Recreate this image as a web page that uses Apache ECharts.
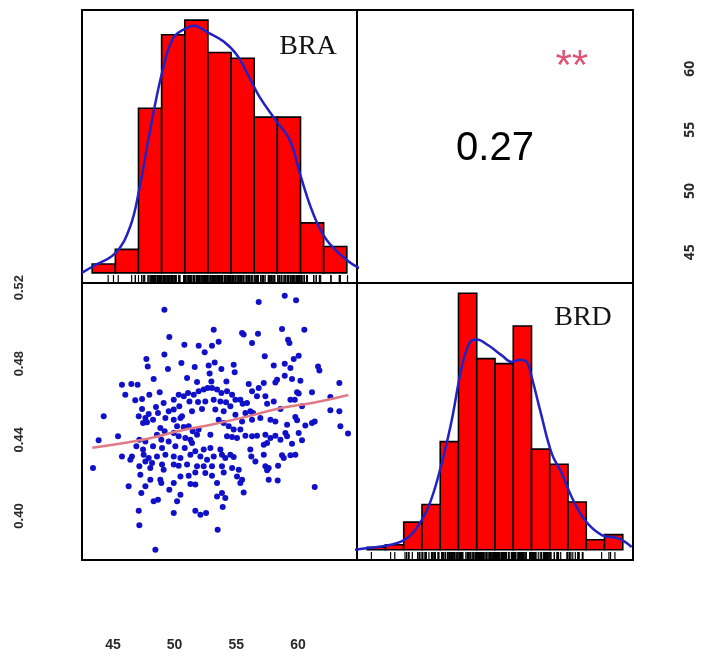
<!DOCTYPE html>
<html><head><meta charset="utf-8">
<script src="https://cdn.jsdelivr.net/npm/echarts@6/dist/echarts.min.js"></script>
<style>html,body{margin:0;padding:0;background:#fff}#c{width:728px;height:656px}</style>
</head><body><div id="c"></div>
<script>
// ---------------- data ----------------
const braBreaks = [42,44,46,48,50,52,54,56,58,60,62,64];
const braCounts = [3,8,56,81,86,75,73,53,53,17,9];
const brdBreaks = [0.38,0.39,0.40,0.41,0.42,0.43,0.44,0.45,0.46,0.47,0.48,0.49,0.50,0.51,0.52];
const brdCounts = [1,2,11,18,43,102,76,74,89,40,34,19,4,6];

const braDensity = [[41.1,0],[42.0,2.1],[44.0,6.7],[45.27,15.6],[46.05,28.1],[46.99,48.2],[48.06,68.5],[49.0,79.9],[50.08,83.2],[50.74,84.1],[52.09,81.6],[53.33,78.8],[54.49,74.2],[55.6,66.3],[56.5,59.6],[57.9,51.7],[59.1,45.0],[59.96,33.6],[61.1,20.1],[62.26,11.2],[63.99,4.4],[65.1,1.6]];
const brdDensity = [[0.3733,0],[0.3806,0.7],[0.3916,1.8],[0.4002,3.8],[0.4062,7.8],[0.4135,17],[0.4203,32.9],[0.4263,51.5],[0.4318,72.7],[0.4363,82.6],[0.4400,83.6],[0.4463,81.3],[0.4537,77.3],[0.4592,74.7],[0.4637,75.6],[0.4674,74.7],[0.4701,68.7],[0.4747,55.5],[0.4811,38.2],[0.4866,30.3],[0.4920,21],[0.4993,11.7],[0.5085,5.8],[0.5176,4.5],[0.5249,1.1]];

// BRA (x) , BRD (y) pairs
const scatterPoints = [
[49.17,0.5084],[49.57,0.4940],[49.17,0.4848],[47.71,0.4825],[47.82,0.4786],[49.46,0.4772],[48.30,0.4720],[45.73,0.4690],[46.49,0.4693],[47.00,0.4690],[46.00,0.4637],[46.81,0.4608],[47.36,0.4615],[47.95,0.4637],[48.79,0.4650],[49.11,0.4594],[48.49,0.4573],[47.36,0.4562],[47.90,0.4536],[48.65,0.4541],[49.52,0.4550],[47.09,0.4524],[47.63,0.4515],[48.25,0.4506],[49.25,0.4515],[44.25,0.4524],[47.44,0.4489],[47.76,0.4492],[48.84,0.4462],[49.19,0.4445],[48.57,0.4427],[45.41,0.4419],[43.84,0.4398],[47.14,0.4401],[47.63,0.4392],[48.92,0.4401],[49.52,0.4392],[46.90,0.4366],[47.44,0.4349],[48.25,0.4366],[48.98,0.4357],[45.73,0.4313],[46.54,0.4313],[47.49,0.4322],[47.90,0.4305],[48.57,0.4313],[49.25,0.4322],[46.41,0.4296],[47.63,0.4287],[48.17,0.4278],[48.98,0.4270],[47.14,0.4261],[48.03,0.4252],[49.11,0.4243],[43.38,0.4252],[47.22,0.4217],[48.03,0.4191],[48.84,0.4191],[46.27,0.4156],[47.63,0.4156],[48.92,0.4173],[47.30,0.4121],[49.57,0.4138],[48.30,0.4077],[48.65,0.4086],[47.09,0.4028],[47.14,0.3951],[48.44,0.3823],
[56.82,0.5124],[53.17,0.4979],[55.47,0.4961],[55.60,0.4953],[56.76,0.4958],[56.28,0.4909],[50.79,0.4900],[51.95,0.4895],[53.03,0.4895],[53.57,0.4916],[52.44,0.4860],[50.55,0.4804],[51.63,0.4783],[52.76,0.4790],[53.25,0.4807],[54.79,0.4795],[54.87,0.4755],[53.79,0.4772],[52.84,0.4748],[51.01,0.4725],[51.82,0.4704],[52.98,0.4707],[54.20,0.4707],[56.01,0.4693],[56.82,0.4672],[50.33,0.4637],[50.74,0.4629],[51.09,0.4646],[51.55,0.4637],[51.95,0.4655],[52.36,0.4664],[52.68,0.4672],[53.03,0.4672],[53.44,0.4664],[53.79,0.4646],[54.25,0.4655],[54.66,0.4637],[54.93,0.4611],[55.33,0.4611],[55.87,0.4594],[56.28,0.4655],[56.68,0.4629],[49.93,0.4611],[50.38,0.4576],[51.20,0.4602],[51.90,0.4599],[52.49,0.4602],[53.17,0.4611],[53.71,0.4602],[54.17,0.4597],[54.52,0.4576],[55.52,0.4590],[56.14,0.4550],[56.36,0.4541],[49.93,0.4559],[50.60,0.4524],[51.41,0.4550],[52.22,0.4562],[53.30,0.4559],[53.98,0.4550],[54.93,0.4532],[55.74,0.4541],[49.93,0.4506],[50.47,0.4515],[50.20,0.4471],[50.74,0.4468],[51.14,0.4471],[51.47,0.4445],[51.95,0.4454],[53.57,0.4506],[53.98,0.4489],[54.39,0.4471],[54.79,0.4454],[55.33,0.4454],[55.47,0.4497],[56.28,0.4506],[56.95,0.4515],[49.93,0.4436],[50.33,0.4419],[50.87,0.4410],[51.28,0.4401],[51.82,0.4427],[52.90,0.4427],[54.25,0.4419],[54.66,0.4415],[55.06,0.4410],[55.74,0.4422],[56.28,0.4419],[56.68,0.4422],[50.06,0.4366],[50.82,0.4357],[51.41,0.4383],[51.68,0.4340],[52.36,0.4349],[52.90,0.4357],[53.71,0.4349],[53.84,0.4322],[54.52,0.4322],[54.79,0.4310],[54.11,0.4305],[56.14,0.4349],[56.22,0.4313],[49.93,0.4313],[50.47,0.4305],[51.28,0.4322],[52.09,0.4313],[52.63,0.4296],[53.17,0.4313],[49.93,0.4270],[50.33,0.4264],[51.01,0.4270],[51.82,0.4261],[52.36,0.4261],[53.03,0.4261],[53.84,0.4261],[54.66,0.4252],[55.20,0.4243],[56.55,0.4287],[50.47,0.4208],[51.14,0.4212],[51.68,0.4229],[52.49,0.4226],[53.03,0.4212],[53.98,0.4229],[55.06,0.4208],[55.47,0.4191],[49.93,0.4173],[51.28,0.4168],[51.68,0.4165],[53.44,0.4173],[55.33,0.4173],[55.60,0.4124],[50.47,0.4112],[50.20,0.4077],[53.44,0.4103],[53.84,0.4121],[54.11,0.4095],[51.68,0.4028],[52.09,0.4007],[52.55,0.4016],[53.90,0.4047],[53.49,0.3928],[49.93,0.4016],
[58.93,0.5157],[59.85,0.5133],[58.71,0.4982],[60.52,0.4979],[59.20,0.4926],[59.31,0.4909],[57.31,0.4839],[60.06,0.4842],[59.66,0.4825],[58.04,0.4790],[58.93,0.4800],[59.39,0.4777],[61.63,0.4786],[61.74,0.4765],[57.23,0.4699],[58.31,0.4716],[58.17,0.4702],[58.93,0.4737],[59.52,0.4720],[60.20,0.4711],[63.36,0.4699],[57.36,0.4629],[58.04,0.4602],[57.50,0.4590],[59.39,0.4611],[59.74,0.4611],[59.93,0.4650],[60.06,0.4643],[61.14,0.4650],[62.63,0.4625],[58.58,0.4562],[60.33,0.4576],[62.63,0.4555],[63.36,0.4550],[57.77,0.4506],[58.17,0.4497],[59.79,0.4520],[59.93,0.4503],[61.14,0.4489],[61.36,0.4497],[59.12,0.4480],[60.60,0.4475],[63.44,0.4471],[64.06,0.4433],[57.36,0.4427],[57.77,0.4410],[58.17,0.4422],[58.58,0.4401],[58.98,0.4436],[59.12,0.4419],[60.06,0.4436],[60.33,0.4398],[57.23,0.4375],[57.50,0.4383],[59.52,0.4380],[58.71,0.4319],[58.85,0.4305],[59.39,0.4319],[59.79,0.4322],[57.23,0.4322],[57.36,0.4261],[57.63,0.4252],[57.50,0.4240],[58.39,0.4264],[57.63,0.4191],[58.36,0.4187],[61.36,0.4152]
];
const smoothLine = [[43.33,0.4359],[47.74,0.4405],[50.44,0.4448],[53.14,0.4482],[55.85,0.4522],[58.55,0.4566],[61.25,0.4595],[64.09,0.4636]];

const corrText = '0.27';
const signifText = '**';
const varNames = ['BRA','BRD'];
const bottomTicks = [45,50,55,60];
const leftTicks = [0.40,0.44,0.48,0.52];
const rightTicks = [45,50,55,60];

// ---------------- helpers ----------------
const braLim = [42.49, 64.79];
const brdLim = [0.3769, 0.5224];
function histData(breaks, counts){ return counts.map((c,i)=>[breaks[i], breaks[i+1], c]); }
function padRange(a,b){ const s=b-a; return [a-0.04*s, b+0.04*s]; }
const braHX = padRange(braBreaks[0], braBreaks[braBreaks.length-1]);
const brdHX = padRange(brdBreaks[0], brdBreaks[brdBreaks.length-1]);
const braMax = Math.max(...braCounts), brdMax = Math.max(...brdCounts);

function barItem(params, api){
  const p0 = api.coord([api.value(0), 0]);
  const p1 = api.coord([api.value(1), api.value(2)]);
  return {type:'rect', shape:{x:p0[0], y:p1[1], width:p1[0]-p0[0], height:p0[1]-p1[1]},
    style:{fill:'#ff0000', stroke:'#000', lineWidth:1.6}};
}
function rugItem(params, api){
  const p = api.coord([api.value(0), 0]);
  const cs = params.coordSys; const bottom = cs.y + cs.height;
  return {type:'line', shape:{x1:p[0], y1:bottom, x2:p[0], y2:bottom-8}, style:{stroke:'#000', lineWidth:1.2}};
}
const hidden = {show:false};
function hiddenAxis(grid, min, max){
  return {type:'value', gridIndex:grid, min, max, axisLine:hidden, axisTick:hidden, axisLabel:hidden, splitLine:hidden};
}
const frame = {show:true, borderColor:'#000', borderWidth:2, backgroundColor:'transparent'};

const chart = echarts.init(document.getElementById('c'), null, {renderer:'canvas'});
chart.setOption({
  backgroundColor:'#fff',
  animation:false,
  grid:[
    Object.assign({left:82, top:10, width:275, height:273}, frame),
    Object.assign({left:357, top:10, width:276, height:273}, frame),
    Object.assign({left:82, top:283, width:275, height:277}, frame),
    Object.assign({left:357, top:283, width:276, height:277}, frame)
  ],
  xAxis:[
    hiddenAxis(0, braHX[0], braHX[1]),
    hiddenAxis(1, 0, 1),
    {type:'value', gridIndex:2, min:braLim[0], max:braLim[1], position:'bottom',
      axisLine:hidden, axisTick:hidden, splitLine:hidden,
      axisLabel:{show:true, customValues:bottomTicks, margin:78, fontSize:14, fontWeight:'bold',
        fontFamily:'Liberation Sans, Arial', color:'#2a2a2a'}},
    hiddenAxis(3, brdHX[0], brdHX[1])
  ],
  yAxis:[
    hiddenAxis(0, -0.04*braMax, 1.04*braMax),
    hiddenAxis(1, 0, 1),
    {type:'value', gridIndex:2, min:brdLim[0], max:brdLim[1], position:'left',
      axisLine:hidden, axisTick:hidden, splitLine:hidden,
      axisLabel:{show:true, customValues:leftTicks, rotate:90, margin:56, fontSize:13, fontWeight:'bold',
        fontFamily:'Liberation Sans, Arial', color:'#2a2a2a', formatter:v=>v.toFixed(2)}},
    hiddenAxis(3, -0.04*brdMax, 1.04*brdMax),
    {type:'value', gridIndex:1, min:braLim[0], max:braLim[1], position:'right',
      axisLine:hidden, axisTick:hidden, splitLine:hidden,
      axisLabel:{show:true, customValues:rightTicks, rotate:90, margin:50, fontSize:14, fontWeight:'bold',
        fontFamily:'Open Sans', color:'#2a2a2a'}}
  ],
  graphic:[
    {type:'text', x:308, y:47, style:{text:varNames[0], font:'28px "Liberation Serif"', fill:'#151515', textAlign:'center', textVerticalAlign:'middle'}},
    {type:'text', x:583, y:318, style:{text:varNames[1], font:'28px "Liberation Serif"', fill:'#151515', textAlign:'center', textVerticalAlign:'middle'}}
  ],
  series:[
    {type:'custom', xAxisIndex:0, yAxisIndex:0, renderItem:barItem, data:histData(braBreaks, braCounts), silent:true},
    {type:'line', xAxisIndex:0, yAxisIndex:0, data:braDensity, smooth:0.4, symbol:'none', lineStyle:{color:'#2222c4', width:2.5}, silent:true},
    {type:'custom', xAxisIndex:0, yAxisIndex:0, renderItem:rugItem, data:scatterPoints.map(p=>[p[0],0]), silent:true},
    {type:'custom', xAxisIndex:3, yAxisIndex:3, renderItem:barItem, data:histData(brdBreaks, brdCounts), silent:true},
    {type:'line', xAxisIndex:3, yAxisIndex:3, data:brdDensity, smooth:0.4, symbol:'none', lineStyle:{color:'#2222c4', width:2.5}, silent:true},
    {type:'custom', xAxisIndex:3, yAxisIndex:3, renderItem:rugItem, data:scatterPoints.map(p=>[p[1],0]), silent:true},
    {type:'scatter', xAxisIndex:2, yAxisIndex:2, data:scatterPoints, symbolSize:6, itemStyle:{color:'#1010c8', opacity:1}, silent:true},
    {type:'line', xAxisIndex:2, yAxisIndex:2, data:smoothLine, smooth:0.4, symbol:'none', lineStyle:{color:'#e07a84', width:2.5}, silent:true},
    {type:'scatter', xAxisIndex:1, yAxisIndex:1, symbolSize:0, silent:true,
      itemStyle:{opacity:1},
      label:{show:true, position:'inside', formatter:'{b}'},
      data:[
        {name:corrText, value:[0.5,0.49], label:{fontSize:40, fontFamily:'Liberation Sans, Arial', color:'#000', opacity:1}},
        {name:signifText, value:[0.778,0.79], label:{fontSize:42, fontFamily:'Liberation Sans, Arial', color:'#dc5577', opacity:1}}
      ]}
  ]
});
</script></body></html>
